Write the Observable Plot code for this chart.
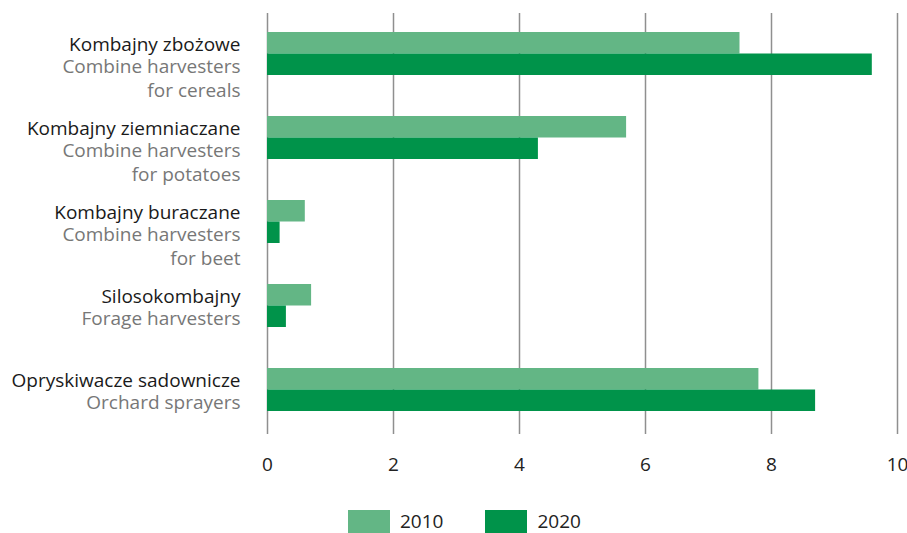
<!DOCTYPE html>
<html><head><meta charset="utf-8">
<script src="https://cdn.jsdelivr.net/npm/d3@7"></script>
<script src="https://cdn.jsdelivr.net/npm/@observablehq/plot@0.6"></script>
<style>
html,body{margin:0;padding:0;background:#fff;}
#chart{width:907px;}
.lg-swatch{margin-right:42px !important;}
.lg-swatch > svg{margin-right:10px !important;}
</style></head><body><div id="chart"></div>
<script>
const categories = ["Kombajny zbożowe","Kombajny ziemniaczane","Kombajny buraczane","Silosokombajny","Opryskiwacze sadownicze"];
const categoriesEn = ["Combine harvesters\nfor cereals","Combine harvesters\nfor potatoes","Combine harvesters\nfor beet","Forage harvesters","Orchard sprayers"];
const values2010 = [7.5, 5.7, 0.6, 0.7, 7.8];
const values2020 = [9.6, 4.3, 0.2, 0.3, 8.7];
const years = ["2010", "2020"];
const xTicks = [0, 2, 4, 6, 8, 10];
const colors = ["#63b685", "#00934a"];
const font = "'Open Sans', sans-serif";

const rows2010 = categories.map((c, i) => ({cat: c, year: years[0], value: values2010[i]}));
const rows2020 = categories.map((c, i) => ({cat: c, year: years[1], value: values2020[i]}));
const labels = categories.map((c, i) => ({cat: c, en: categoriesEn[i]}));

const chart = Plot.plot({
  width: 907,
  height: 500,
  marginLeft: 267,
  marginRight: 10,
  marginTop: 13,
  marginBottom: 66,
  style: {fontFamily: font, fontSize: "19px", color: "#222", background: "#fff"},
  x: {domain: [0, 10]},
  y: {domain: categories, paddingInner: 0.491, paddingOuter: 0.2367, align: 0.45, axis: null},
  color: {domain: years, range: colors},
  marks: [
    Plot.ruleX(xTicks, {stroke: "#8f8f8f", strokeWidth: 1.5}),
    Plot.barX(rows2010, {x: "value", y: "cat", fill: "year", insetBottom: 21.5}),
    Plot.barX(rows2020, {x: "value", y: "cat", fill: "year", insetTop: 21.5}),
    Plot.axisX({ticks: xTicks, tickSize: 0, tickPadding: 23, fontSize: 19, fill: "#222", label: null}),
    Plot.text(labels, {frameAnchor: "left", y: "cat", text: "cat", textAnchor: "end", dx: -27, dy: -9.5, fill: "#1a1a1a", fontSize: 19}),
    Plot.text(labels, {frameAnchor: "left", y: "cat", text: "en", textAnchor: "end", dx: -27, dy: 1.5, lineAnchor: "top", lineHeight: 1.263, fill: "#777", fontSize: 19})
  ]
});
document.getElementById("chart").appendChild(chart);

const legend = Plot.legend({
  color: {domain: years, range: colors},
  swatchWidth: 42,
  swatchHeight: 23,
  className: "lg",
  style: {fontFamily: font, fontSize: "19px", lineHeight: "23px", minHeight: "23px", color: "#222", marginLeft: "348px", marginTop: "10px"}
});
document.getElementById("chart").appendChild(legend);
</script>
</body></html>
